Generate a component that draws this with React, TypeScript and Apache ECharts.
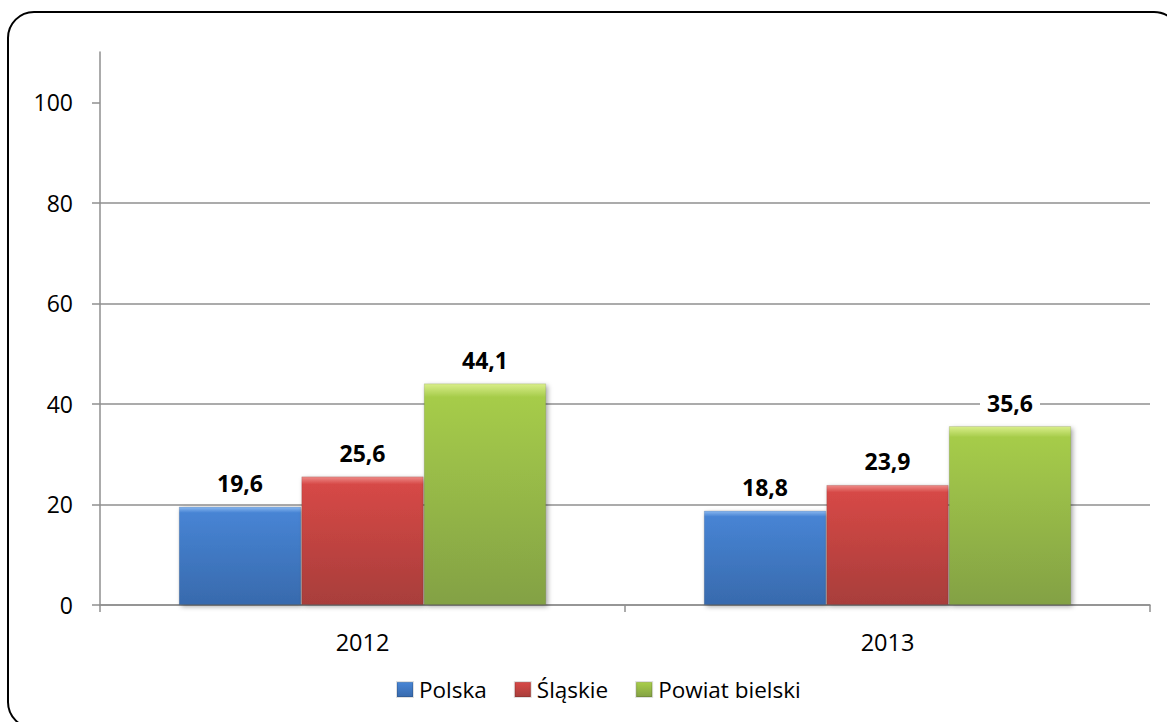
import React, { useEffect, useRef } from "react";
import * as echarts from "echarts";

const categories = ["2012", "2013"];
const seriesNames = ["Polska", "Śląskie", "Powiat bielski"];
const polska = [19.6, 18.8];
const slaskie = [25.6, 23.9];
const powiat = [44.1, 35.6];
const yTicks = [0, 20, 40, 60, 80, 100];

const FONT = "'Open Sans', 'Noto Sans', sans-serif";
const AXIS = "#8f8f8f";

function grad(top: string, mid: string, bottom: string) {
  return new echarts.graphic.LinearGradient(0, 0, 0, 1, [
    { offset: 0, color: top },
    { offset: 0.06, color: mid },
    { offset: 1, color: bottom },
  ]);
}

export default function App() {
  const ref = useRef<HTMLDivElement>(null);
  useEffect(() => {
    document.body.style.margin = "0";
    const chart = echarts.init(ref.current!, undefined, { renderer: "svg" });
    const palette = [
      { name: seriesNames[0], data: polska, color: "#4a7ebb", fill: grad("#8ab8f0", "#4784d4", "#386aad") },
      { name: seriesNames[1], data: slaskie, color: "#c0504d", fill: grad("#ee8a87", "#d64846", "#a83e3b") },
      { name: seriesNames[2], data: powiat, color: "#9bbb59", fill: grad("#d9ee8a", "#a6cc4a", "#83a144") },
    ];
    chart.setOption({
      animation: false,
      backgroundColor: "#ffffff",
      textStyle: { fontFamily: FONT },
      graphic: [
        {
          type: "rect",
          shape: { x: 8, y: 12, width: 1172, height: 716, r: 26 },
          style: { fill: "none", stroke: "#000", lineWidth: 2 },
          silent: true,
        },
      ],
      grid: { left: 100, right: 17, top: 52, bottom: 117, containLabel: false },
      legend: {
        top: 673,
        left: 391,
        icon: "rect",
        itemWidth: 16,
        itemHeight: 15,
        itemGap: 27,
        textStyle: { fontSize: 22.5, color: "#000", fontFamily: FONT, padding: [0, 0, 0, 1] },
        data: seriesNames,
      },
      xAxis: {
        type: "category",
        data: categories,
        boundaryGap: true,
        axisLine: { lineStyle: { color: AXIS, width: 1.5 } },
        axisTick: { show: true, length: 7, lineStyle: { color: AXIS, width: 1.5 } },
        axisLabel: { fontSize: 23.5, color: "#000", margin: 25, fontFamily: FONT },
      },
      yAxis: {
        type: "value",
        min: 0,
        max: 110,
        interval: 20,
        axisLine: { show: true, lineStyle: { color: AXIS, width: 1.5 } },
        axisTick: { show: true, length: 8, customValues: yTicks, lineStyle: { color: AXIS, width: 1.5 } },
        axisLabel: { fontSize: 23, color: "#000", margin: 27, customValues: yTicks, fontFamily: FONT },
        splitLine: { show: true, showMaxLine: false, lineStyle: { color: AXIS, width: 1.5 } },
      },
      series: palette.map((p) => ({
        type: "bar",
        name: p.name,
        data: p.data,
        barGap: "0%",
        barCategoryGap: "30%",
        color: p.color,
        itemStyle: {
          color: p.fill,
          borderColor: "rgba(0,0,0,0.12)",
          borderWidth: 1,
          shadowBlur: 5,
          shadowColor: "rgba(0,0,0,0.35)",
          shadowOffsetX: 2,
          shadowOffsetY: 2,
        },
        label: {
          show: true,
          position: "top",
          distance: 12,
          fontSize: 23,
          fontWeight: "bold",
          color: "#000",
          fontFamily: FONT,
          backgroundColor: "#fff",
          padding: [0, 7],
          formatter: (v: any) => String(v.value).replace(".", ","),
        },
      })),
    });
    return () => chart.dispose();
  }, []);
  return <div ref={ref} style={{ width: 1167, height: 722 }} />;
}
